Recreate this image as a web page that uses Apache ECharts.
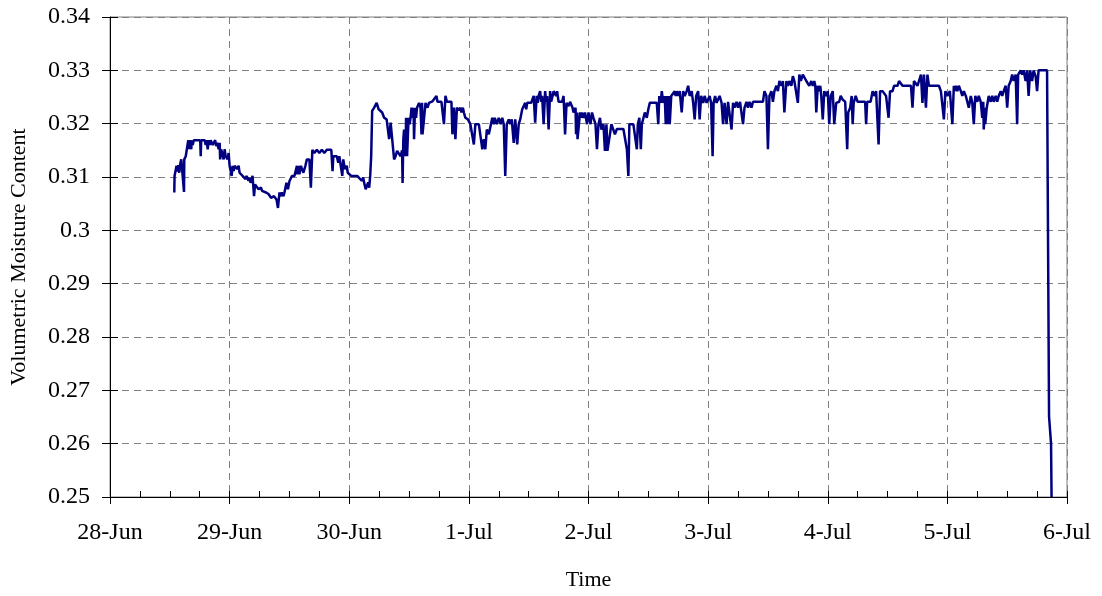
<!DOCTYPE html>
<html>
<head>
<meta charset="utf-8">
<script src="https://cdn.jsdelivr.net/npm/echarts@6/dist/echarts.min.js"></script>
<style>
html,body{margin:0;padding:0;background:#fff;}
#chart{width:1102px;height:596px;}
</style>
</head>
<body>
<div id="chart"></div>
<script>
// Tick labels (one per day, hours since 28-Jun 00:00)
const dayLabels = ['28-Jun','29-Jun','30-Jun','1-Jul','2-Jul','3-Jul','4-Jul','5-Jul','6-Jul'];

// Readings: [hours since 28-Jun 00:00, volumetric moisture content]
const segA = [
[12.9,0.3071],[12.95,0.3102],[13.2,0.3100],[13.35,0.3121],[13.5,0.3110],[13.7,0.3122],[13.9,0.3108],[14.1,0.3125],[14.3,0.3133],[14.6,0.3133],[14.85,0.3072],[14.9,0.3133],[15.2,0.3139],[15.5,0.3139],[15.7,0.3169],[15.8,0.3152],[15.9,0.3169],[16.0,0.3158],[16.1,0.3169],[16.3,0.3152],[16.4,0.3169],[16.6,0.3160],[16.8,0.3169],[17.5,0.3169],[18.1,0.3169],[18.2,0.3139],[18.3,0.3169],[19.0,0.3169],[19.2,0.3160],[19.4,0.3169],[19.6,0.3152],[19.8,0.3169],[20.0,0.3160],[20.2,0.3169],[20.6,0.3160],[21.1,0.3169],[21.3,0.3158],[21.5,0.3164],[21.8,0.3152],[22.0,0.3164],[22.1,0.3133],[22.3,0.3152],[22.5,0.3145],[22.8,0.3133],[23.0,0.3152],[23.2,0.3139],[23.6,0.3133],[23.8,0.3145],[24.0,0.3121],[24.4,0.3102],[24.6,0.3121],[24.8,0.3111],[25.0,0.3121],[25.5,0.3115],[25.8,0.3121],[26.0,0.3108],[26.2,0.3111],[26.6,0.3102],[27.0,0.3105],[27.2,0.3096],[27.4,0.3102],[27.8,0.3093],[28.0,0.3099],[28.2,0.3089],[28.6,0.3102],[28.9,0.3064],[29.1,0.3086],[29.5,0.3089],[29.8,0.3077],[30.3,0.3080],[30.5,0.3074],[30.8,0.3077],[31.3,0.3071],[31.8,0.3068],[32.3,0.3061],[32.9,0.3064],[33.4,0.3058],[33.7,0.3042],[34.0,0.3071],[34.2,0.3064],[34.5,0.3071],[34.8,0.3064],[35.0,0.3071],[35.4,0.3089],[35.7,0.3077],[36.0,0.3092],[36.5,0.3102],[37.0,0.3102],[37.5,0.3121],[37.6,0.3105],[37.8,0.3121],[38.0,0.3105],[38.3,0.3121],[38.8,0.3108],[39.2,0.3121],[39.5,0.3133],[40.0,0.3133],[40.3,0.3080],[40.6,0.3151],[41.0,0.3145],[41.5,0.3151],[42.0,0.3145],[42.5,0.3151],[43.0,0.3145],[43.5,0.3151],[44.4,0.3151],[44.65,0.3111],[44.8,0.3139],[45.5,0.3139],[45.8,0.3127],[46.0,0.3139],[46.3,0.3121],[46.6,0.3102],[46.8,0.3133],[47.1,0.3115],[47.5,0.3121],[47.7,0.3108],[48.0,0.3111],[48.4,0.3102],[49.0,0.3102],[49.6,0.3102],[50.0,0.3099],[50.5,0.3093],[50.8,0.3099],[51.0,0.3089],[51.3,0.3077],[51.6,0.3075],[51.8,0.3090],[52.0,0.3080],[52.2,0.3102],[52.4,0.3139],[52.6,0.3224],[53.0,0.3230],[53.5,0.3239],[53.9,0.3227],[54.3,0.3230],[54.6,0.3221],[55.0,0.3211],[55.5,0.3208],[56.0,0.3171]
];
const segB = [
[56.3,0.3202],[56.6,0.3199],[57.0,0.3133],[57.3,0.3139],[57.6,0.3149],[57.9,0.3152],[58.3,0.3139],[58.6,0.3150],[58.7,0.3089],[58.85,0.3171],[59.0,0.3189],[59.3,0.3139],[59.4,0.3211],[59.6,0.3139],[59.9,0.3211],[60.1,0.3199],[60.3,0.3211],[60.5,0.3230],[60.7,0.3211],[60.9,0.3230],[61.0,0.3171],[61.2,0.3230],[61.4,0.3211],[61.6,0.3230],[62.0,0.3239],[62.3,0.3230],[62.5,0.3180],[62.6,0.3239],[62.7,0.3180],[63.0,0.3180],[63.3,0.3239],[63.7,0.3230],[64.0,0.3239],[64.7,0.3242],[65.5,0.3252],[65.7,0.3241],[66.5,0.3241],[67.0,0.3199],[67.3,0.3252],[67.6,0.3241],[68.5,0.3241],[68.7,0.3180],[69.0,0.3230],[69.3,0.3171],[69.6,0.3230],[70.0,0.3225],[70.3,0.3230],[70.5,0.3221],[70.8,0.3230],[71.0,0.3221],[71.3,0.3211],[71.8,0.3208],[72.3,0.3199],[72.7,0.3199],[73.0,0.3161],[73.3,0.3199],[74.0,0.3199],[74.3,0.3199],[74.7,0.3152],[75.0,0.3171],[75.3,0.3152],[75.6,0.3189],[76.0,0.3180],[76.3,0.3180],[76.7,0.3211],[77.0,0.3199],[77.2,0.3211],[77.6,0.3199],[78.0,0.3211],[78.4,0.3199],[78.7,0.3211],[79.0,0.3199],[79.3,0.3102],[79.6,0.3199],[80.0,0.3208],[80.3,0.3199],[80.6,0.3208],[81.0,0.3164],[81.3,0.3208],[81.7,0.3161],[82.0,0.3199],[82.3,0.3208],[82.7,0.3227],[83.0,0.3230],[83.3,0.3239],[83.5,0.3227],[83.7,0.3239],[84.5,0.3239],[85.0,0.3252],[85.3,0.3202],[85.6,0.3252],[85.8,0.3239],[86.0,0.3252],[86.3,0.3261],[86.5,0.3241],[86.7,0.3252],[87.0,0.3199],[87.3,0.3261],[87.5,0.3241],[87.7,0.3252],[88.0,0.3189],[88.3,0.3261],[88.5,0.3241],[88.8,0.3252],[89.0,0.3261],[89.5,0.3252],[89.7,0.3261],[90.0,0.3241],[90.7,0.3241],[91.0,0.3252],[91.3,0.3180],[91.6,0.3239],[92.0,0.3233],[92.3,0.3241],[92.8,0.3230],[93.0,0.3221],[93.4,0.3230],[93.5,0.3180],[93.7,0.3221],[93.8,0.3171],[94.0,0.3171],[94.3,0.3221],[94.5,0.3211],[94.7,0.3221],[95.0,0.3211],[95.3,0.3221],[95.7,0.3199],[96.0,0.3221],[96.4,0.3199],[96.7,0.3221],[97.0,0.3211],[97.4,0.3199],[97.7,0.3152],[98.0,0.3199],[98.3,0.3211],[98.6,0.3189],[99.0,0.3199],[99.3,0.3149],[99.6,0.3199],[99.8,0.3149],[100.0,0.3149],[100.3,0.3180],[100.6,0.3199]
];
const segC = [
[101.3,0.3180],[101.7,0.3190],[102.3,0.3190],[103.0,0.3190],[103.4,0.3190],[103.7,0.3152],[104.0,0.3102],[104.2,0.3199],[105.0,0.3199],[105.4,0.3199],[105.7,0.3152],[105.9,0.3199],[106.2,0.3211],[106.5,0.3152],[106.7,0.3199],[107.0,0.3199],[107.3,0.3221],[107.7,0.3211],[108.0,0.3227],[108.3,0.3239],[109.0,0.3239],[109.7,0.3239],[110.0,0.3199],[110.2,0.3252],[110.5,0.3239],[110.7,0.3261],[111.0,0.3239],[111.3,0.3252],[111.5,0.3199],[111.7,0.3252],[111.9,0.3199],[112.1,0.3252],[112.3,0.3199],[112.6,0.3252],[113.0,0.3252],[113.3,0.3261],[113.5,0.3252],[113.7,0.3261],[114.0,0.3252],[114.3,0.3261],[114.7,0.3221],[115.0,0.3261],[115.3,0.3252],[115.7,0.3261],[116.0,0.3271],[116.3,0.3252],[116.7,0.3261],[117.0,0.3239],[117.3,0.3208],[117.6,0.3252],[118.0,0.3261],[118.3,0.3208],[118.6,0.3252],[119.0,0.3239],[119.3,0.3252],[119.7,0.3239],[120.0,0.3241],[120.3,0.3252],[120.6,0.3239],[120.9,0.3139],[121.1,0.3239],[121.4,0.3252],[121.7,0.3239],[122.3,0.3252],[122.7,0.3239],[123.0,0.3199],[123.3,0.3239],[123.7,0.3199],[124.0,0.3241],[124.4,0.3239],[124.7,0.3189],[125.0,0.3239],[125.3,0.3230],[125.7,0.3241],[126.0,0.3230],[126.4,0.3241],[127.0,0.3199],[127.3,0.3230],[127.7,0.3241],[128.0,0.3230],[128.3,0.3241],[128.7,0.3230],[129.0,0.3241],[130.0,0.3241],[131.0,0.3241],[131.3,0.3261],[131.7,0.3252],[132.0,0.3152],[132.3,0.3252],[132.7,0.3261],[133.0,0.3241],[133.3,0.3261],[133.7,0.3271],[134.0,0.3261],[134.3,0.3280],[134.7,0.3271],[135.0,0.3280],[135.3,0.3221],[135.7,0.3280],[136.0,0.3271],[136.3,0.3280],[136.7,0.3271],[137.0,0.3289],[137.3,0.3280],[137.7,0.3280],[138.0,0.3239],[138.3,0.3292],[138.6,0.3280],[139.0,0.3292],[139.3,0.3292],[139.7,0.3280],[140.0,0.3280],[140.3,0.3271],[140.7,0.3280],[141.0,0.3271],[141.3,0.3280],[141.5,0.3271],[141.7,0.3221],[142.0,0.3271],[142.3,0.3261],[142.5,0.3271],[142.7,0.3252],[143.0,0.3208],[143.3,0.3261],[143.7,0.3252],[144.0,0.3261],[144.3,0.3199],[144.6,0.3252],[145.0,0.3261],[145.3,0.3199],[145.7,0.3239]
];
const segD = [
[146.3,0.3241],[146.6,0.3252],[147.0,0.3245],[147.5,0.3241],[147.9,0.3152],[148.1,0.3221],[148.5,0.3230],[148.8,0.3252],[149.0,0.3199],[149.2,0.3239],[149.6,0.3252],[150.0,0.3241],[151.0,0.3241],[151.5,0.3241],[151.7,0.3199],[151.9,0.3241],[152.6,0.3241],[153.0,0.3261],[153.3,0.3252],[153.7,0.3261],[154.0,0.3264],[154.2,0.3161],[154.5,0.3261],[155.0,0.3261],[155.7,0.3252],[156.2,0.3211],[156.5,0.3261],[157.0,0.3261],[157.3,0.3271],[158.0,0.3271],[158.3,0.3280],[158.7,0.3280],[159.0,0.3271],[160.0,0.3271],[160.7,0.3271],[161.0,0.3230],[161.3,0.3280],[161.7,0.3280],[162.0,0.3271],[162.3,0.3280],[162.7,0.3292],[163.0,0.3239],[163.3,0.3292],[163.7,0.3230],[164.0,0.3292],[164.3,0.3271],[165.0,0.3271],[165.7,0.3271],[166.3,0.3271],[166.7,0.3261],[167.0,0.3261],[167.3,0.3208],[167.6,0.3261],[168.0,0.3252],[168.5,0.3261],[169.0,0.3199],[169.3,0.3271],[169.5,0.3261],[169.7,0.3271],[170.0,0.3261],[170.3,0.3271],[170.7,0.3261],[171.0,0.3252],[171.3,0.3261],[171.7,0.3252],[172.0,0.3241],[172.3,0.3230],[172.7,0.3252],[173.0,0.3239],[173.3,0.3199],[173.6,0.3252],[174.0,0.3241],[174.3,0.3252],[174.7,0.3241],[175.0,0.3211],[175.2,0.3241],[175.3,0.3189],[175.5,0.3230],[175.6,0.3199],[175.9,0.3230],[176.1,0.3241],[176.3,0.3252],[176.7,0.3241],[177.0,0.3252],[177.3,0.3241],[177.7,0.3252],[178.0,0.3241],[178.3,0.3252],[178.7,0.3261],[179.0,0.3252],[179.3,0.3261],[179.7,0.3271],[180.0,0.3230],[180.3,0.3271],[180.7,0.3280],[181.0,0.3292],[181.3,0.3280],[181.7,0.3292],[182.0,0.3199],[182.2,0.3292],[182.7,0.3300],[183.0,0.3292],[183.3,0.3300],[183.7,0.3280],[184.0,0.3300],[184.3,0.3252],[184.6,0.3300],[185.0,0.3280],[185.3,0.3300],[185.7,0.3289],[186.0,0.3261],[186.3,0.3300],[187.0,0.3300],[188.0,0.3300],[188.4,0.2651],[188.8,0.2600],[188.9,0.2500]
];

const readings = segA.concat(segB, segC, segD);

const FONT = '"Liberation Serif", "Times New Roman", serif';
const chart = echarts.init(document.getElementById('chart'), null, {renderer: 'canvas'});

const gridBox = {left: 109, right: 35, top: 17, bottom: 99};
const dash = {type: [7, 5], color: '#808080', width: 1};

chart.setOption({
  animation: false,
  backgroundColor: '#ffffff',
  grid: Object.assign({show: true, borderColor: '#808080', borderWidth: 1, containLabel: false}, gridBox),
  xAxis: [{
    type: 'value', min: 0, max: 192, interval: 24, position: 'bottom',
    axisLine: {show: true, lineStyle: {color: '#000', width: 1}},
    axisTick: {show: true, inside: false, length: 7, lineStyle: {color: '#000'}},
    axisLabel: {margin: 24, color: '#000', fontFamily: FONT, fontSize: 24,
      formatter: v => dayLabels[Math.round(v / 24)] || ''},
    splitLine: {show: true, lineStyle: dash},
    name: 'Time', nameLocation: 'middle', nameGap: 72,
    nameTextStyle: {color: '#000', fontFamily: FONT, fontSize: 22}
  }, {
    type: 'value', min: 0, max: 192, interval: 24, position: 'bottom',
    axisLine: {show: false},
    axisTick: {show: true, inside: true, length: 6, lineStyle: {color: '#000'}},
    minorTick: {show: true, splitNumber: 4, length: 6, lineStyle: {color: '#000'}},
    axisLabel: {show: false}, splitLine: {show: false}
  }],
  yAxis: [{
    type: 'value', min: 0.25, max: 0.34, interval: 0.01,
    axisLine: {show: true, lineStyle: {color: '#000', width: 1}},
    axisTick: {show: true, inside: false, length: 8, lineStyle: {color: '#000'}},
    axisLabel: {margin: 20, color: '#000', fontFamily: FONT, fontSize: 24,
      formatter: v => String(+v.toFixed(2))},
    splitLine: {show: true, lineStyle: dash},
    name: 'Volumetric Moisture Content', nameLocation: 'middle', nameGap: 80, nameRotate: 90,
    nameTextStyle: {color: '#000', fontFamily: FONT, fontSize: 22}
  }, {
    type: 'value', min: 0.25, max: 0.34, interval: 0.01, position: 'left',
    axisLine: {show: false},
    axisTick: {show: true, inside: true, length: 8, lineStyle: {color: '#000'}},
    axisLabel: {show: false}, splitLine: {show: false}
  }],
  series: [{
    type: 'line', xAxisIndex: 0, yAxisIndex: 0,
    data: readings, showSymbol: false, symbol: 'none',
    lineStyle: {color: '#000080', width: 2.5},
    clip: true
  }]
});
</script>
</body>
</html>
